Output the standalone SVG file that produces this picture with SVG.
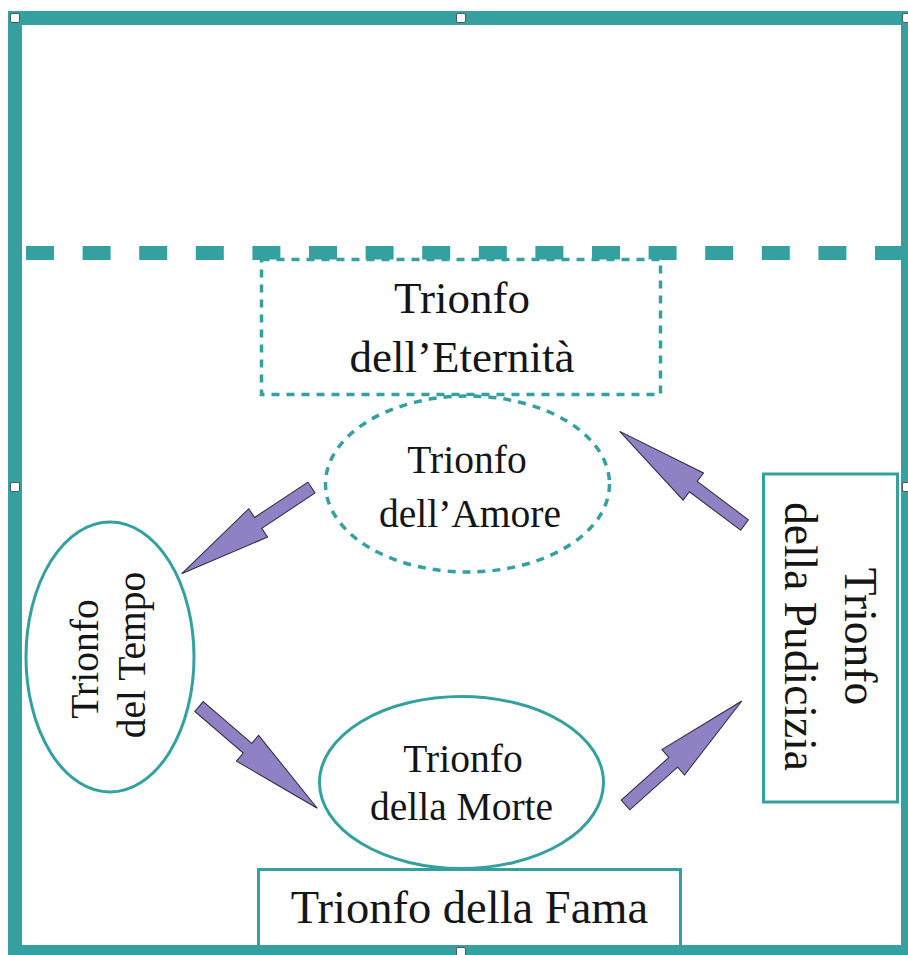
<svg xmlns="http://www.w3.org/2000/svg" xmlns:xlink="http://www.w3.org/1999/xlink" width="908" height="955" viewBox="0 0 908 955">
<style>
.lbl{font-family:"Liberation Serif","Times New Roman",serif;fill:#151515;text-anchor:middle}
.solid{fill:#fff;stroke:#34a0a0;stroke-width:3}
.dot{fill:#fff;stroke:#34a0a0;stroke-width:3.5;stroke-dasharray:8 7}
.arrow{fill:#8f81c3;stroke:#2a2a3a;stroke-width:1;stroke-linejoin:miter}
.handle{fill:#fff;stroke:#555;stroke-width:1}
</style>
<defs>
<polygon id="arr" class="arrow" points="0,-6.5 64,-6.5 64,-17 156,0 64,17 64,6.5 0,6.5"/>
</defs>
<rect width="908" height="955" fill="#fff"/>
<g id="divider">
<line x1="26" y1="253" x2="904" y2="253" stroke="#34a0a0" stroke-width="14" stroke-dasharray="28 28.6"/>
</g>
<g id="node-eternita">
<rect class="dot" x="261.5" y="259.5" width="399" height="135"/>
<text class="lbl" font-size="45" x="462" y="313">Trionfo</text>
<text class="lbl" font-size="45" x="462" y="372">dell’Eternità</text>
</g>
<g id="node-amore">
<ellipse class="dot" cx="467.5" cy="484" rx="142" ry="88"/>
<text class="lbl" font-size="39.5" x="467" y="473">Trionfo</text>
<text class="lbl" font-size="39.5" x="470" y="527">dell’Amore</text>
</g>
<g id="node-tempo">
<ellipse class="solid" cx="110" cy="657" rx="84" ry="135"/>
<text class="lbl" font-size="39.5" transform="translate(98,659) rotate(-90)">Trionfo</text>
<text class="lbl" font-size="39.5" transform="translate(145,655) rotate(-90)">del Tempo</text>
</g>
<g id="node-morte">
<ellipse class="solid" cx="461.5" cy="782.5" rx="142" ry="86"/>
<text class="lbl" font-size="39.5" x="463" y="772">Trionfo</text>
<text class="lbl" font-size="39.5" x="461.5" y="820">della Morte</text>
</g>
<g id="node-pudicizia">
<rect class="solid" x="763.5" y="474" width="134" height="328"/>
<text class="lbl" font-size="45.5" transform="translate(845,636.5) rotate(90)">Trionfo</text>
<text class="lbl" font-size="45.5" transform="translate(785,636.5) rotate(90)">della Pudicizia</text>
</g>
<g id="node-fama">
<rect class="solid" x="258.5" y="869.5" width="422" height="80"/>
<text class="lbl" font-size="46.5" x="469.5" y="923">Trionfo della Fama</text>
</g>
<g id="connectors">
<use xlink:href="#arr" href="#arr" transform="translate(311.5,487.5) rotate(146.4)"/>
<use xlink:href="#arr" href="#arr" transform="translate(199,706.5) rotate(40.7)"/>
<use xlink:href="#arr" href="#arr" transform="translate(625.5,805) rotate(-41.8)"/>
<use xlink:href="#arr" href="#arr" transform="translate(744.5,525) rotate(-143.1)"/>
</g>
<g id="frame">
<rect x="15" y="18" width="893" height="934" fill="none" stroke="#34a0a0" stroke-width="14"/>
<rect class="handle" x="10.5" y="13.5" width="9" height="9" rx="1.5"/>
<rect class="handle" x="456.5" y="13.5" width="9" height="9" rx="1.5"/>
<rect class="handle" x="902.5" y="13.5" width="9" height="9" rx="1.5"/>
<rect class="handle" x="10.5" y="482.5" width="9" height="9" rx="1.5"/>
<rect class="handle" x="902.5" y="482.5" width="9" height="9" rx="1.5"/>
<rect class="handle" x="456.5" y="947.5" width="9" height="9" rx="1.5"/>
</g>
</svg>
